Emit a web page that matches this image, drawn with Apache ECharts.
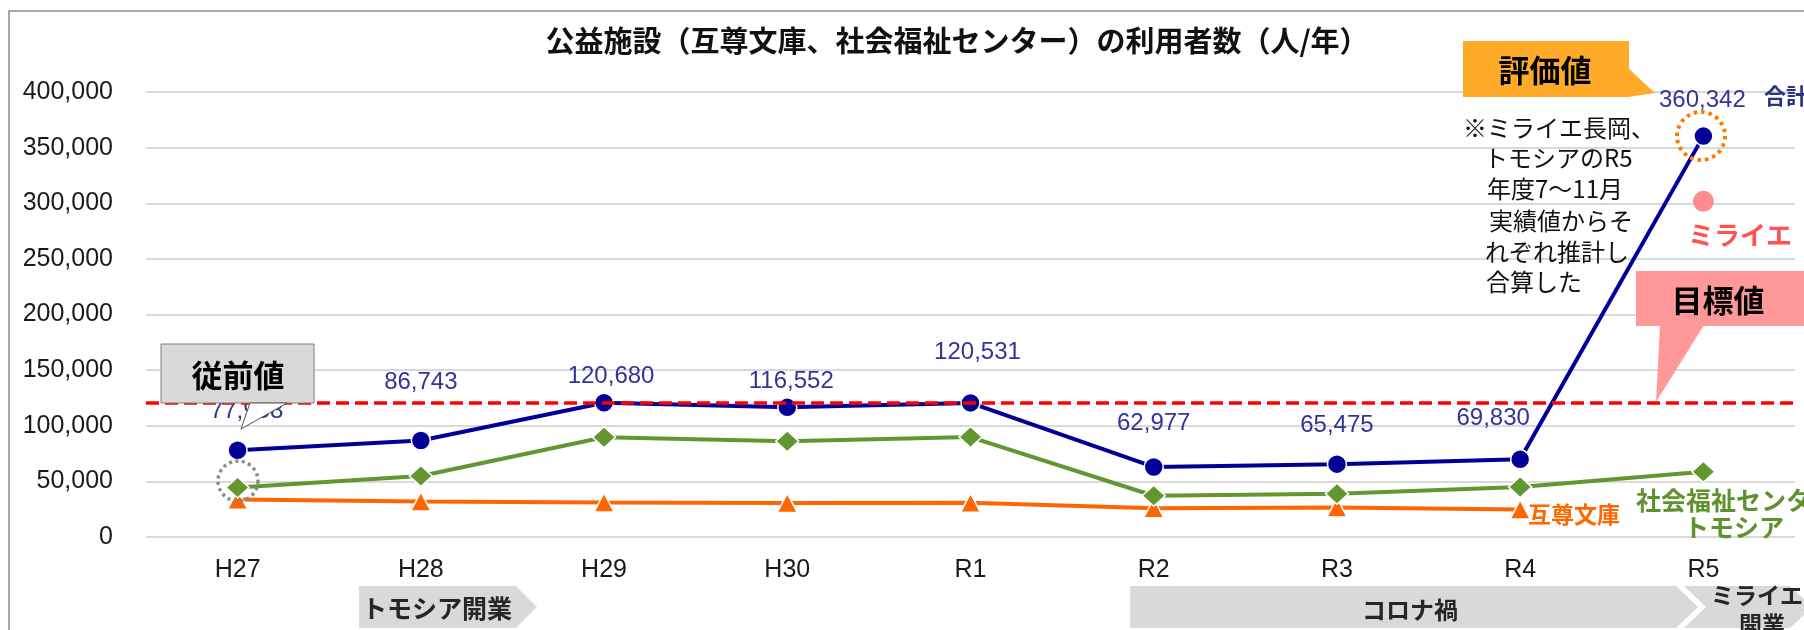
<!DOCTYPE html>
<html>
<head>
<meta charset="utf-8">
<title>公益施設の利用者数</title>
<script src="https://cdn.jsdelivr.net/npm/echarts@6/dist/echarts.min.js"></script>
<style>
  html, body { margin: 0; padding: 0; background: #fff; }
  #chart { width: 1804px; height: 630px; }
</style>
</head>
<body>
<div id="chart"></div>
<script>
  // 年度
  const years = ['H27', 'H28', 'H29', 'H30', 'R1', 'R2', 'R3', 'R4', 'R5'];
  // 互尊文庫（R5は無し）
  const gosonValues = [33600, 31900, 31000, 30600, 30700, 25900, 26600, 24800];
  // 社会福祉センター・トモシア
  const tomoshiaValues = [44400, 54800, 89700, 86000, 89800, 37100, 38900, 45000, 58600];
  // 合計
  const totalValues = [77958, 86743, 120680, 116552, 120531, 62977, 65475, 69830, 360342];
  // ミライエ長岡（R5のみ）
  const miraieValues = ['-', '-', '-', '-', '-', '-', '-', '-', 301700];
  // 目標値
  const targetValue = 121000;
  // Y軸
  const yMin = 0, yMax = 400000, yStep = 50000;

  // 合計ラベルの位置ずらし（点からのずれ px）
  const totalLabelOffsets = [[9, -39], [0, -58], [7, -26], [4, -26], [7, -51], [0, -44], [0, -39], [-27, -41], [-1, -36]];

  const JP = '"Noto Sans CJK JP", sans-serif';
  const NUM = '"Liberation Sans", Arial, sans-serif';
  const fmt = v => Number(v).toLocaleString('en-US');

  const myChart = echarts.init(document.getElementById('chart'));

  // 注記テキスト
  const noteLines = [
    { t: '※ミライエ長岡、', x: 1463, y: 128 },
    { t: 'トモシアのR5', x: 1484, y: 158 },
    { t: '年度7～11月', x: 1487, y: 189 },
    { t: '実績値からそ', x: 1489, y: 221 },
    { t: 'れぞれ推計し', x: 1485, y: 252 },
    { t: '合算した', x: 1486, y: 282 }
  ];

  // 太字テキスト（align: center / left）
  const txt = (text, x, y, size, color, align) => ({
    type: 'text', x: x, y: y, z: 100,
    style: {
      text: text, fill: color, fontSize: size, fontWeight: 'bold', fontFamily: JP,
      align: align || 'center', verticalAlign: 'middle'
    }
  });

  const graphics = [
    // 外枠
    { type: 'rect', z: 0, shape: { x: 9, y: 11, width: 1900, height: 800 }, style: { fill: 'none', stroke: '#8c8c8c', lineWidth: 1.5 } },
    // タイトル
    txt('公益施設（互尊文庫、社会福祉センター）の利用者数（人/年）', 957, 41, 29, '#111'),

    // 従前値
    { type: 'rect', z: 100, shape: { x: 161, y: 344, width: 153, height: 59 }, style: { fill: '#D9D9D9', stroke: '#7f7f7f', lineWidth: 1 } },
    { type: 'polygon', z: 100, shape: { points: [[250, 403], [287, 403], [241, 429]] }, style: { fill: '#fff', stroke: '#555', lineWidth: 1 } },
    txt('従前値', 238, 375, 31, '#000'),
    { type: 'circle', z: 100, shape: { cx: 238, cy: 481, r: 20 }, style: { fill: 'none', stroke: '#8a8a8a', lineWidth: 3.5, lineDash: [3, 3.5] } },

    // 評価値
    { type: 'rect', z: 100, shape: { x: 1463, y: 41, width: 166, height: 56 }, style: { fill: '#FFAA28' } },
    { type: 'polygon', z: 100, shape: { points: [[1628, 68], [1655, 93], [1628, 97]] }, style: { fill: '#FFAA28' } },
    txt('評価値', 1545, 70, 31, '#000'),
    { type: 'circle', z: 100, shape: { cx: 1701, cy: 136, r: 24 }, style: { fill: 'none', stroke: '#FF7A00', lineWidth: 4, lineDash: [3.5, 4] } },

    // 目標値
    { type: 'rect', z: 100, shape: { x: 1636, y: 271, width: 180, height: 55 }, style: { fill: '#FF9999' } },
    { type: 'polygon', z: 100, shape: { points: [[1660, 325], [1704, 325], [1656, 402]] }, style: { fill: '#FF9999' } },
    txt('目標値', 1718, 300, 31, '#000'),

    // 系列名
    txt('合計', 1764, 96, 22, '#2B3284', 'left'),
    txt('ミライエ', 1688, 235, 26, '#FF5252', 'left'),
    txt('互尊文庫', 1528, 514, 23, '#FF6600', 'left'),
    txt('社会福祉センター・', 1636, 500, 25, '#5F922E', 'left'),
    txt('トモシア', 1734, 527, 25, '#5F922E'),

    // 下部の帯
    { type: 'polygon', z: 100, shape: { points: [[359, 586], [516, 586], [537, 607], [516, 628], [359, 628]] }, style: { fill: '#D9D9D9' } },
    txt('トモシア開業', 437, 608, 25, '#262626'),
    { type: 'polygon', z: 100, shape: { points: [[1130, 586], [1676, 586], [1698, 607], [1676, 628], [1130, 628]] }, style: { fill: '#D9D9D9' } },
    txt('コロナ禍', 1410, 610, 24, '#262626'),
    { type: 'polygon', z: 100, shape: { points: [[1684, 586], [1790, 586], [1812, 607], [1790, 628], [1684, 628], [1706, 607]] }, style: { fill: '#D9D9D9' } },
    txt('ミライエ', 1757, 595, 23, '#262626'),
    txt('開業', 1762, 624, 23, '#262626')
  ];

  noteLines.forEach(l => {
    graphics.push({
      type: 'text', x: l.x, y: l.y, z: 100,
      style: { text: l.t, fill: '#111', fontSize: 24, fontFamily: JP, align: 'left', verticalAlign: 'middle' }
    });
  });

  const initOptions = {
    animation: false,
    grid: { left: 146, right: 9, top: 92, bottom: 93, containLabel: false, outerBoundsMode: 'none' },
    xAxis: {
      type: 'category',
      data: years,
      boundaryGap: true,
      axisLine: { show: false },
      axisTick: { show: false },
      axisLabel: { margin: 21, fontSize: 25, fontFamily: NUM, color: '#1a1a1a' }
    },
    yAxis: {
      type: 'value',
      min: yMin, max: yMax, interval: yStep,
      axisLine: { show: false },
      axisTick: { show: false },
      axisLabel: { margin: 33, fontSize: 25, fontFamily: NUM, color: '#1a1a1a', formatter: v => fmt(v) },
      splitLine: { lineStyle: { color: '#D9D9D9', width: 2 } }
    },
    series: [
      {
        name: '互尊文庫', type: 'line', data: gosonValues, z: 2,
        symbol: 'triangle', symbolSize: [20, 19],
        lineStyle: { color: '#FF6600', width: 4 },
        itemStyle: { color: '#FF6600', borderColor: '#fff', borderWidth: 1.5 }
      },
      {
        name: '社会福祉センター・トモシア', type: 'line', data: tomoshiaValues, z: 2,
        symbol: 'diamond', symbolSize: [23, 21],
        lineStyle: { color: '#63962F', width: 4 },
        itemStyle: { color: '#63962F', borderColor: '#fff', borderWidth: 1.5 }
      },
      {
        name: '合計', type: 'line', z: 3,
        data: totalValues.map((v, i) => ({ value: v, label: { offset: totalLabelOffsets[i] } })),
        symbol: 'circle', symbolSize: 19,
        lineStyle: { color: '#000099', width: 4 },
        itemStyle: { color: '#000099', borderColor: '#fff', borderWidth: 1.5 },
        label: {
          show: true, position: 'inside', fontSize: 24, fontFamily: NUM, color: '#333399',
          formatter: p => fmt(p.value)
        }
      },
      {
        name: 'ミライエ長岡', type: 'line', data: miraieValues, z: 3,
        symbol: 'circle', symbolSize: 21,
        lineStyle: { width: 0 },
        itemStyle: { color: '#FF8C8C' }
      },
      {
        name: '目標値', type: 'line', data: [], z: 6,
        markLine: {
          silent: true, symbol: 'none', label: { show: false },
          lineStyle: { color: '#FF0000', width: 3.5, type: [13, 6] },
          data: [{ yAxis: targetValue }]
        }
      }
    ],
    graphic: graphics
  };

  myChart.setOption(initOptions);
</script>
</body>
</html>
